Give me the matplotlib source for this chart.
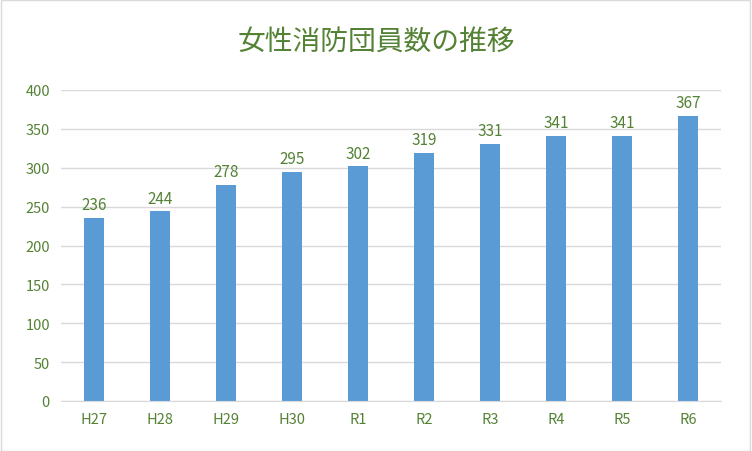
import matplotlib
matplotlib.use("Agg")
import matplotlib.pyplot as plt
from matplotlib.patches import Rectangle

categories = ["H27", "H28", "H29", "H30", "R1", "R2", "R3", "R4", "R5", "R6"]
values = [236, 244, 278, 295, 302, 319, 331, 341, 341, 367]
yticks = [0, 50, 100, 150, 200, 250, 300, 350, 400]
title = "女性消防団員数の推移"

green = "#548235"
plt.rcParams["font.family"] = ["Noto Sans CJK JP"]
fig = plt.figure(figsize=(7.52, 4.52), dpi=100)
ax = fig.add_axes([61/752, 50/452, 660/752, 311/452])
x = range(len(categories))
ax.bar(x, values, width=0.3, color="#5B9BD5", zorder=2)
for i, v in zip(x, values):
    ax.text(i, v + 6, str(v), ha="center", va="bottom", fontsize=11, color=green)
ax.set_xlim(-0.5, len(categories) - 0.5)
ax.set_ylim(0, 400)
ax.set_yticks(yticks)
ax.set_xticks(list(x))
ax.set_xticklabels(categories)
ax.tick_params(axis="both", length=0, labelsize=10.5, colors=green, pad=8)
ax.grid(axis="y", color="#D9D9D9", linewidth=1, zorder=0)
for s in ["top", "right", "left"]:
    ax.spines[s].set_visible(False)
ax.spines["bottom"].set_color("#D9D9D9")
fig.text(0.5, 0.907, title, ha="center", va="center", fontsize=20, color=green)
fig.patches.append(Rectangle((0.001, 0.001), 0.997, 0.997, transform=fig.transFigure,
                             fill=False, edgecolor="#D9D9D9", linewidth=1))
fig.savefig("out.png", dpi=100)
